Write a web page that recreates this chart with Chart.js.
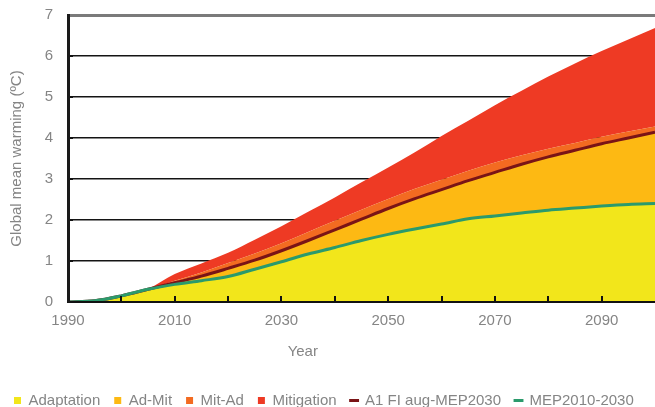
<!DOCTYPE html>
<html>
<head>
<meta charset="utf-8">
<script src="https://cdn.jsdelivr.net/npm/chart.js@4/dist/chart.umd.min.js"></script>
<style>
html,body{margin:0;padding:0;background:#fff;}
#wrap{width:655px;height:407px;overflow:hidden;}
</style>
</head>
<body>
<div id="wrap"><canvas id="c" width="655" height="418"></canvas></div>
<script>
// ---- data ----
const years = [1990,1995,2000,2005,2010,2015,2020,2025,2030,2035,2040,2045,2050,2055,2060,2065,2070,2075,2080,2085,2090,2095,2100];
// MEP2010-2030 line (= top of Adaptation)
const mep2010_2030 = [0,0.03,0.15,0.31,0.43,0.52,0.62,0.8,0.98,1.17,1.33,1.5,1.65,1.78,1.9,2.03,2.1,2.17,2.24,2.29,2.34,2.38,2.4];
// A1 FI aug-MEP2030 line (= top of Ad-Mit)
const a1fiAugMep2030 = [0,0.03,0.15,0.31,0.47,0.63,0.82,1.02,1.25,1.5,1.76,2.02,2.28,2.52,2.74,2.96,3.16,3.36,3.54,3.7,3.86,4.0,4.14];
// top of Mit-Ad band
const mitAdTop = [0,0.03,0.15,0.31,0.52,0.72,0.95,1.18,1.43,1.71,1.98,2.25,2.51,2.76,2.98,3.2,3.4,3.58,3.74,3.88,4.03,4.16,4.28];
// top of Mitigation band
const mitigationTop = [0,0.03,0.15,0.32,0.68,0.94,1.2,1.52,1.85,2.2,2.55,2.92,3.28,3.65,4.05,4.42,4.8,5.15,5.5,5.82,6.12,6.4,6.68];
const seriesNames = ['Adaptation','Ad-Mit','Mit-Ad','Mitigation','A1 FI aug-MEP2030','MEP2010-2030'];
const yTickValues = [0,1,2,3,4,5,6,7];
const xLabelYears = [1990,2010,2030,2050,2070,2090];

const pts = arr => years.map((x,i) => ({x:x, y:arr[i]}));
const FONT = "'Liberation Sans', Arial, sans-serif";
const GREY = '#858585';

const area = (label, arr, color, fill) => ({
  label, data: pts(arr), backgroundColor: color, borderColor: color, borderWidth: 0,
  fill, pointRadius: 0, pointStyle: 'rect', cubicInterpolationMode: 'monotone', order: 2
});
const line = (label, arr, color, order) => ({
  label, data: pts(arr), borderColor: color, backgroundColor: color, borderWidth: 3,
  fill: false, pointRadius: 0, pointStyle: 'line', cubicInterpolationMode: 'monotone', order
});

const extras = {
  id: 'extras',
  afterDatasetsDraw(chart) {
    const ctx = chart.ctx, xs = chart.scales.x, ys = chart.scales.y, a = chart.chartArea;
    ctx.save();
    ctx.strokeStyle = '#111';
    ctx.lineWidth = 2;
    xs.ticks.forEach(t => {
      if (t.value <= xs.min || t.value >= xs.max) return;
      const px = Math.round(xs.getPixelForValue(t.value));
      ctx.beginPath(); ctx.moveTo(px, a.bottom); ctx.lineTo(px, a.bottom - 6); ctx.stroke();
    });
    ys.ticks.forEach(t => {
      if (t.value <= ys.min || t.value >= ys.max) return;
      const py = Math.round(ys.getPixelForValue(t.value));
      ctx.beginPath(); ctx.moveTo(a.left, py); ctx.lineTo(a.left + 5, py); ctx.stroke();
    });
    ctx.restore();
  },
  afterDraw(chart) {
    const ctx = chart.ctx, a = chart.chartArea;
    ctx.save();
    ctx.fillStyle = GREY;
    ctx.font = "15px " + FONT;
    ctx.textAlign = 'center';
    ctx.textBaseline = 'middle';
    ctx.fillText('Year', a.left + (a.right - a.left) * 0.40, a.bottom + 50);
    ctx.restore();
  }
};

new Chart(document.getElementById('c'), {
  type: 'line',
  data: {
    datasets: [
      area(seriesNames[0], mep2010_2030, '#F2E61B', 'origin'),
      area(seriesNames[1], a1fiAugMep2030, '#FDB913', '-1'),
      area(seriesNames[2], mitAdTop, '#F36B21', '-1'),
      area(seriesNames[3], mitigationTop, '#EE3A24', '-1'),
      line(seriesNames[4], a1fiAugMep2030, '#7A1416', 1),
      line(seriesNames[5], mep2010_2030, '#2B9A6C', 0)
    ]
  },
  options: {
    responsive: false,
    devicePixelRatio: 1,
    animation: false,
    layout: { autoPadding: false, padding: { top: 15, left: 0, right: 0, bottom: 0 } },
    plugins: {
      tooltip: { enabled: false },
      legend: {
        position: 'bottom',
        align: 'start',
        labels: {
          usePointStyle: true,
          boxWidth: 7,
          boxHeight: 7,
          padding: 14,
          color: GREY,
          font: { family: FONT, size: 15 },
          sort: (a, b) => a.datasetIndex - b.datasetIndex
        }
      }
    },
    scales: {
      x: {
        type: 'linear',
        min: years[0],
        max: years[years.length - 1],
        grid: { drawOnChartArea: false, drawTicks: false },
        border: { display: true, color: '#111', width: 2, z: 1 },
        ticks: {
          stepSize: 10,
          autoSkip: false,
          maxRotation: 0,
          padding: 10,
          color: GREY,
          font: { family: FONT, size: 15 },
          callback: v => xLabelYears.includes(v) ? String(v) : ''
        },
        afterFit: s => { s.height = 77; s.paddingLeft = 0; s.paddingRight = 0; }
      },
      y: {
        min: yTickValues[0],
        max: yTickValues[yTickValues.length - 1],
        afterBuildTicks: s => { s.ticks = yTickValues.map(v => ({ value: v })); },
        grid: {
          drawTicks: false,
          color: c => c.tick && c.tick.value === 7 ? '#7a7a7a' : (c.tick && c.tick.value === 0 ? 'rgba(0,0,0,0)' : '#141414'),
          lineWidth: c => c.tick && c.tick.value === 7 ? 3 : 1.5
        },
        border: { display: true, color: '#1a1a1a', width: 3, z: 1 },
        ticks: {
          padding: 15,
          color: GREY,
          font: { family: FONT, size: 15 },
          callback: v => String(v)
        },
        title: {
          display: true,
          text: 'Global mean warming (ºC)',
          color: GREY,
          font: { family: FONT, size: 15 },
          padding: { top: 8, bottom: 0 }
        },
        afterFit: s => { s.width = 68; s.paddingTop = 0; s.paddingBottom = 0; }
      }
    }
  },
  plugins: [extras]
});
</script>
</body>
</html>
